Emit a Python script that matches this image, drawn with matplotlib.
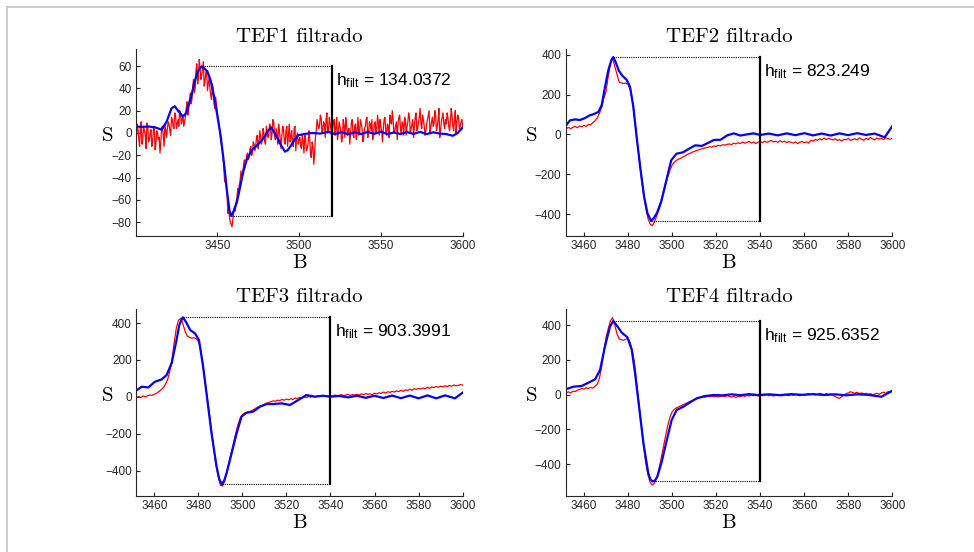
import matplotlib
matplotlib.use('Agg')
import matplotlib.pyplot as plt
from matplotlib.lines import Line2D
import numpy as np

plt.rcParams['font.family'] = ['Liberation Sans', 'DejaVu Sans']

# ---------------- TEF1 ----------------
# raw spectrum, sampled on whole and half field steps
tef1_b = np.arange(3401, 3601)
tef1_s = [
    8, -5, 3, -10, 6, -2, 9, -8, 0, -12,
    4, -15, 2, -6, -18, 5, -3, 8, -4, 10,
    2, 14, 6, 18, 4, 12, 20, 8, 16, 10,
    22, 16, 30, 26, 42, 36, 56, 44, 66, 48,
    58, 42, 54, 38, 50, 34, 44, 26, 32, 18,
    8, -6, -14, -30, -38, -56, -66, -80, -84, -72,
    -70, -58, -54, -42, -40, -30, -30, -20, -24, -14,
    -20, -8, -16, -4, -14, 2, -10, 4, -8, 6,
    -4, 8, -6, 12, -2, 4, -10, 2, -14, 6,
    -8, 2, -12, 8, -4, -10, 4, -16, 0, -6,
    -12, -2, -18, -6, -14, 2, -20, -8, -28, -4,
    12, 4, 16, 0, 10, -4, 18, 2, 8, -6,
    10, -2, 14, 0, 6, -8, 12, -4, 8, 2,
    -10, 10, -2, 6, -6, 14, 0, 8, -8, 4,
    12, -4, 10, 2, -6, 8, 0, 16, -2, 6,
    -8, 12, 2, 8, -4, 10, 20, 0, 6, -6,
    14, 4, 10, -2, 12, 6, 18, 0, 8, -4,
    14, 2, 10, 22, 4, 12, -2, 8, 16, 0,
    10, 6, 20, 2, 12, -4, 10, 18, 4, 8,
    14, 2, 22, 6, 12, 0, 16, 4, 10, 6,
]
tef1_b_half = np.arange(3400.5, 3600)
tef1_s_half = [
    -6, 4, -12, 10, -4, 2, -14, 6, -6, 3,
    -8, 6, -10, 0, -4, -8, 6, -12, 2, 4,
    8, -2, 12, 4, 16, 8, 6, 18, 12, 6,
    14, 28, 20, 36, 30, 48, 40, 62, 50, 58,
    52, 64, 46, 56, 44, 40, 30, 40, 22, 26,
    14, 2, -10, -22, -44, -48, -72, -76, -82, -78,
    -66, -62, -50, -46, -34, -36, -24, -26, -18, -22,
    -12, -18, -10, -12, -2, -8, -4, -6, 0, -10,
    2, -2, 6, 0, 10, -6, -2, 8, -6, -2,
    4, -10, 6, -2, -8, 2, -12, 6, -4, -10,
    -4, -14, -8, -2, -16, -10, -4, -22, -12, -18,
    2, 8, 6, 14, 2, 8, 12, 0, 14, 4,
    2, 12, 4, -6, 10, 2, -4, 6, 14, -2,
    4, 0, 12, -4, 8, 2, -2, 12, 4, -4,
    6, 14, 0, 8, 12, -2, 10, 4, 8, 12,
    2, 4, 14, -2, 6, 16, 8, 12, 2, 10,
    8, 16, 0, 8, 14, -2, 10, 14, 4, 12,
    6, 18, 4, 14, 8, 16, 6, 2, 12, 20,
    4, 14, 8, 16, 6, 22, 2, 14, 8, 12,
    18, 6, 10, 16, 2, 20, 10, 14, 6, 12,
]
tef1_fit_b = [3400.3, 3404, 3408, 3412, 3416, 3419, 3422, 3424, 3426, 3429,
              3431, 3434, 3436, 3438, 3440.4, 3442, 3444, 3446, 3448, 3450,
              3452, 3454, 3456, 3457.5, 3458.5, 3460, 3462, 3464, 3466, 3468,
              3471, 3474, 3477, 3479.5, 3481, 3483, 3485, 3487, 3489, 3491.4,
              3493, 3495, 3497, 3499.5, 3503, 3508, 3513, 3518, 3522, 3526,
              3530, 3534, 3538, 3542, 3546, 3550, 3554, 3558, 3562, 3566,
              3570, 3574, 3578, 3582, 3586, 3590, 3594, 3597, 3600]
tef1_fit_s = [5.7, 5.5, 5.8, 5.0, 3.0, 10, 22, 24, 20, 14.6,
              18, 32, 45, 55, 59.6, 58, 55, 47, 33, 16,
              -2, -26, -53, -70, -74.4372, -70, -62, -48, -34, -24,
              -15.5, -11.5, -7, -2, 2, 5, 0, -5, -11, -16.7,
              -15.5, -11.5, -6.5, -2, -1, 0, -0.5, 1, -1, 0.8,
              -1.2, 0.6, -1, 1, -0.8, 1.2, -1, 0.5, -1, 0.8,
              -0.8, 1, -1, 0.6, -0.5, -1, -2.5, 0, 5]

# ---------------- TEF2 ----------------
tef2_b = np.arange(3452, 3601)
tef2_s = [
    30, 35, 28, 36, 40, 33, 42, 38, 45, 40,
    50, 48, 58, 68, 82, 105, 135, 180, 215, 290,
    355, 382, 340, 300, 262, 258, 255, 258, 250, 225,
    170, 80, -25, -115, -215, -295, -365, -420, -450, -458,
    -440, -410, -380, -345, -300, -255, -215, -180, -155, -140,
    -130, -124, -120, -112, -108, -100, -96, -90, -86, -82,
    -78, -74, -72, -68, -66, -62, -64, -58, -60, -55,
    -58, -52, -54, -50, -48, -52, -44, -48, -42, -46,
    -38, -44, -40, -36, -44, -38, -46, -40, -36, -42,
    -34, -40, -36, -30, -38, -34, -40, -32, -38, -34,
    -42, -36, -40, -44, -38, -46, -40, -36, -42, -38,
    -44, -30, -34, -26, -30, -22, -28, -18, -26, -20,
    -24, -28, -22, -30, -26, -34, -24, -28, -20, -30,
    -26, -22, -28, -18, -24, -30, -20, -26, -16, -22,
    -28, -18, -24, -20, -26, -18, -22, -24, -20,
]
tef2_fit_b = [3451.7, 3453.6, 3455.9, 3458.2, 3460.5, 3462.5, 3464.5, 3466.5, 3468, 3469.5,
              3471, 3472.5, 3473.3, 3474.3, 3475.8, 3477.3, 3479.4, 3480.9, 3482.4, 3483.9,
              3485.5, 3487.3, 3488.8, 3490.5, 3491.7, 3493.1, 3495.1, 3497.4, 3499.6, 3502,
              3505, 3508, 3510.5, 3513.5, 3516.5, 3519, 3522, 3525, 3528, 3531,
              3534, 3537, 3540, 3544, 3548, 3552, 3556, 3560, 3564, 3568,
              3572, 3576, 3580, 3584, 3588, 3592, 3596.5, 3600]
tef2_fit_s = [42, 70, 75, 72, 82, 95, 102, 112, 145, 235,
              320, 375, 388, 365, 320, 296, 273, 239, 139, -12,
              -162, -313, -395, -435.249, -420, -395, -335, -230, -130, -97,
              -90, -70, -55, -58, -42, -28, -27, -5, 5, -6,
              0, 5, -3, 4, -5, 5, -4, 6, -5, 4,
              -6, 5, -4, 6, -3, 4, -15, 42]

# ---------------- TEF3 ----------------
tef3_b = np.arange(3452, 3601)
tef3_s = [
    -3, 2, -4, 5, 0, 6, 10, 8, 14, 18,
    28, 37, 48, 66, 91, 135, 200, 290, 370, 415,
    425, 395, 355, 330, 322, 318, 320, 316, 300, 262,
    180, 90, 0, -90, -185, -280, -365, -430, -478, -483,
    -455, -405, -352, -300, -248, -196, -150, -115, -96, -88,
    -84, -80, -76, -70, -62, -56, -50, -46, -40, -34,
    -30, -26, -22, -24, -18, -20, -14, -18, -12, -16,
    -10, -14, -6, -10, -2, -6, 0, -4, 2, -2,
    4, 0, 6, 2, 8, 4, 6, 2, 8, 4,
    10, 6, 8, 12, 6, 10, 14, 8, 12, 10,
    14, 10, 16, 12, 18, 14, 16, 12, 20, 16,
    22, 18, 26, 20, 28, 24, 30, 26, 32, 28,
    36, 30, 38, 34, 42, 36, 44, 40, 46, 42,
    48, 44, 52, 46, 54, 50, 56, 52, 58, 54,
    60, 56, 62, 58, 64, 60, 62, 66, 64,
]
tef3_fit_b = [3451.7, 3454.3, 3457.3, 3460.3, 3463.3, 3465.6, 3467.9, 3470.1, 3471.4, 3472.9,
              3473.6, 3474.6, 3476.3, 3478.5, 3480.3, 3482.2, 3484.1, 3486, 3488.3, 3489.5,
              3490.6, 3491.7, 3492.8, 3495.1, 3497.4, 3499.6, 3501.9, 3504.9, 3508, 3511,
              3514, 3517.8, 3521.6, 3525.4, 3529.1, 3532.9, 3536.7, 3540, 3544, 3548,
              3552, 3556, 3560, 3564, 3568, 3572, 3576, 3580, 3584, 3588,
              3592, 3596.5, 3600]
tef3_fit_s = [33, 55, 51, 82, 94, 118, 182, 308, 390, 431,
              420, 402, 362, 344, 308, 163, -17, -197, -378, -445,
              -472.3991, -455, -414, -306, -197, -107, -86, -80, -53, -39,
              -39, -35, -44, -17, 10, 1, 6, 1, 5, -3,
              6, -5, 6, -6, 7, -7, 7, -8, 8, -8,
              8, -8, 23]

# ---------------- TEF4 ----------------
tef4_b = np.arange(3452, 3601)
tef4_s = [
    12, 16, 10, 20, 18, 26, 30, 36, 32, 40,
    36, 42, 38, 48, 60, 95, 160, 250, 330, 380,
    425, 444, 400, 350, 322, 316, 314, 320, 325, 300,
    250, 175, 60, -60, -175, -290, -390, -460, -505, -521,
    -510, -478, -430, -370, -305, -240, -180, -130, -100, -84,
    -76, -70, -64, -58, -52, -46, -40, -34, -28, -24,
    -20, -16, -12, -14, -10, -12, -8, -12, -10, -14,
    -10, -8, -12, -6, -10, -14, -8, -16, -10, -12,
    -6, -10, -4, -8, -2, -6, -4, -8, -2, -6,
    -4, 0, -6, -2, -8, -4, 0, -4, -6, 2,
    -2, -6, 0, -4, 2, -2, -6, 0, -4, 2,
    6, 0, 4, -2, 2, 8, 4, 0, 6, 2,
    4, -4, -10, -18, -21, -12, -2, 6, 10, 17,
    12, 8, 14, 6, 10, 4, 8, 2, 6, 0,
    4, 8, 2, 10, 14, 6, 18, 12, 23,
]
tef4_fit_b = [3451.7, 3455.2, 3458.9, 3462, 3465, 3467.3, 3469.5, 3471.8, 3473.3, 3475.3,
              3477.1, 3479.7, 3481.7, 3483.2, 3485, 3487, 3489.2, 3490.2, 3491.2, 3492.2,
              3493.3, 3495.3, 3497.6, 3499.8, 3502.1, 3505.2, 3508.2, 3511.2, 3515, 3518.8,
              3523, 3527, 3531, 3535, 3539, 3544, 3549, 3554, 3559, 3564,
              3569, 3574, 3579, 3584, 3589, 3595, 3600]
tef4_fit_s = [31, 46, 50, 69, 88, 142, 277, 392, 425, 392,
              358, 331, 258, 123, -69, -281, -454, -490, -500.6352, -495,
              -473, -387, -262, -146, -88, -69, -44, -21, -8, -2,
              -4, 2, -3, 3, -2, 2, -3, 3, -1, 3,
              -2, 2, -4, 2, -1, -12, 23]

titles = ['TEF1 filtrado', 'TEF2 filtrado', 'TEF3 filtrado', 'TEF4 filtrado']
h_line_b = [3520, 3540, 3540, 3540]


def draw_panel(ax, b, s, fit_b, fit_s, title, x_line, xlim, ylim, xticks, yticks, s_x):
    ax.plot(b, s, color='#ff0000', lw=0.9)
    ax.plot(fit_b, fit_s, color='#0000ff', lw=1.6)

    # peak-to-peak height of the filtered signal
    i_max = int(np.argmax(fit_s))
    i_min = int(np.argmin(fit_s))
    s_max, s_min = fit_s[i_max], fit_s[i_min]
    h = s_max - s_min
    ax.plot([fit_b[i_max], x_line], [s_max, s_max], color='black', lw=0.8, ls=(0, (1, 1)))
    ax.plot([fit_b[i_min], x_line], [s_min, s_min], color='black', lw=0.8, ls=(0, (1, 1)))
    ax.plot([x_line, x_line], [s_min, s_max], color='black', lw=1.6)
    label = f'{h:.4f}'.rstrip('0').rstrip('.')
    ax.annotate(r'$\mathregular{h_{filt}}$ = ' + label, xy=(x_line, s_max),
                xytext=(3, -3.5), textcoords='offset points',
                ha='left', va='top', fontsize=12.5)

    ax.set_xlim(*xlim)
    ax.set_ylim(*ylim)
    ax.set_xticks(xticks)
    ax.set_yticks(yticks)
    ax.tick_params(direction='in', length=3, width=0.8, labelsize=8.5,
                   colors='#262626', pad=3)
    for side in ('top', 'right'):
        ax.spines[side].set_visible(False)
    for side in ('left', 'bottom'):
        ax.spines[side].set_color('#262626')
        ax.spines[side].set_linewidth(0.8)

    ax.set_title(title, fontname='cmr10', fontsize=15, pad=5.5)
    ax.set_xlabel('B', fontname='cmr10', fontsize=15, va='center')
    ax.xaxis.set_label_coords(0.5, -0.145)
    ax.set_ylabel('S', fontname='cmr10', fontsize=15, rotation=0,
                  ha='center', va='center')
    ax.yaxis.set_label_coords(s_x, 0.535)


fig = plt.figure(figsize=(9.74, 5.52), dpi=100)

w, hgt = 0.3354, 0.3382
ax1 = fig.add_axes([0.1396, 0.5725, w, hgt])
ax2 = fig.add_axes([0.5808, 0.5725, w, hgt])
ax3 = fig.add_axes([0.1396, 0.1014, w, hgt])
ax4 = fig.add_axes([0.5808, 0.1014, w, hgt])

ticks_b = [3460, 3480, 3500, 3520, 3540, 3560, 3580, 3600]
ticks_s = [-400, -200, 0, 200, 400]

# merge the whole-step and half-step samples of TEF1 in field order
tef1_b_all = np.empty(len(tef1_b) + len(tef1_b_half))
tef1_s_all = np.empty_like(tef1_b_all)
tef1_b_all[0::2], tef1_b_all[1::2] = tef1_b_half, tef1_b
tef1_s_all[0::2], tef1_s_all[1::2] = tef1_s_half, tef1_s

draw_panel(ax1, tef1_b_all, tef1_s_all, tef1_fit_b, tef1_fit_s, titles[0], h_line_b[0],
           (3400.3, 3600), (-92.3, 75), [3450, 3500, 3550, 3600],
           [-80, -60, -40, -20, 0, 20, 40, 60], -0.086)
draw_panel(ax2, tef2_b, tef2_s, tef2_fit_b, tef2_fit_s, titles[1], h_line_b[1],
           (3451.7, 3600), (-510, 427), ticks_b, ticks_s, -0.104)
draw_panel(ax3, tef3_b, tef3_s, tef3_fit_b, tef3_fit_s, titles[2], h_line_b[2],
           (3451.7, 3600), (-537, 474), ticks_b, ticks_s, -0.088)
draw_panel(ax4, tef4_b, tef4_s, tef4_fit_b, tef4_fit_s, titles[3], h_line_b[3],
           (3451.7, 3600), (-584.5, 492), ticks_b, ticks_s, -0.104)

# light frame along the top and left edge
fig.add_artist(Line2D([7 / 974, 7 / 974], [0, 1 - 7 / 552], transform=fig.transFigure,
                      color='#c4c4c4', lw=1.2))
fig.add_artist(Line2D([7 / 974, 1], [1 - 7 / 552, 1 - 7 / 552], transform=fig.transFigure,
                      color='#c4c4c4', lw=1.2))

fig.savefig('out.png', dpi=100)
